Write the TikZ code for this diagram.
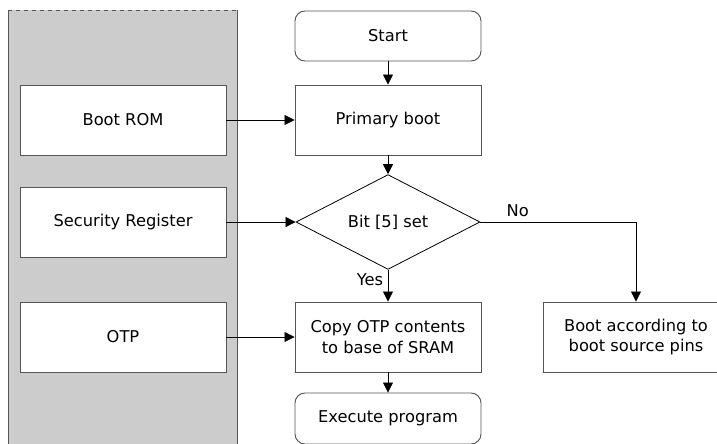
\documentclass[tikz,border=0pt]{standalone}
\usepackage{fontspec}
\setmainfont{DejaVu Sans}
\usepackage{tikz}
\usetikzlibrary{shapes.geometric,arrows.meta}
\definecolor{panelgray}{HTML}{CCCCCC}
\definecolor{edgegray}{HTML}{555555}

\begin{document}
\begin{tikzpicture}[x=0.75pt,y=-0.75pt,
    every node/.style={font=\fontsize{12.2}{15.5}\selectfont},
    box/.style={draw=edgegray,fill=white,line width=0.7pt,minimum width=139.5pt,minimum height=52.5pt,align=center,inner sep=0pt},
    srcbox/.style={box,minimum width=154.5pt},
    term/.style={box,rounded corners=7.5pt,minimum height=37.5pt},
    decision/.style={draw=black,diamond,line width=0.6pt,minimum width=138pt,minimum height=63.75pt,inner sep=0pt},
    flow/.style={draw,line width=0.6pt,-{Triangle[length=7.5pt,width=7.5pt]}}]
         \useasboundingbox (0,0) rectangle (717,443);
         % grey panel on the left
         \fill[panelgray] (8,10) rectangle (237,460);
         \draw[edgegray,dashed,line width=0.6pt] (8,10) -- (237,10);
         \draw[edgegray,line width=0.7pt] (8,10) -- (8,460) (237,10) -- (237,460);
         \foreach \name/\ypos/\txt in {rom/120/Boot ROM, sec/222/Security Register, otp/337/OTP} {\node[srcbox] (\name) at (123,\ypos) {\txt}; }
         % flow chart
         \node[term] (start) at (388,36) {Start};
         \node[box] (prim) at (388,120) {Primary boot};
         \node[decision] (dec) at (388,222) {Bit [5] set};
         \node[box] (copy) at (388,337) {Copy OTP contents\\to base of SRAM};
         \node[box] (pins) at (636,337) {Boot according to\\boot source pins};
         \node[term,minimum height=38.25pt] (exec) at (388,418.5) {Execute program};
         \foreach \src/\dst in {rom/prim, sec/dec, otp/copy, start/prim, prim/dec, copy/exec} {\draw[flow] (\src) -- (\dst); }
         \draw[flow] (dec) -- node[pos=0.3,left] {Yes} (copy);
         \draw[flow] (dec.east) -| node[pos=0.12,above] {No} (pins);
      \end{tikzpicture}
\end{document}
